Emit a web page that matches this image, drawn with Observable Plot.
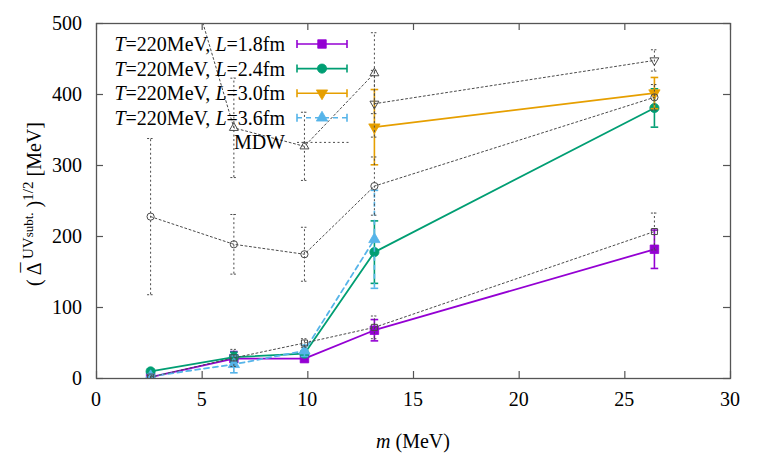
<!DOCTYPE html>
<html><head><meta charset="utf-8">
<script src="https://cdn.jsdelivr.net/npm/d3@7"></script>
<script src="https://cdn.jsdelivr.net/npm/@observablehq/plot@0.6"></script>
<style>body{margin:0;background:#fff}</style>
</head><body><div id="chart"></div>
<script>
// ---- data ----
const mAll = [2.56, 6.5, 9.84, 13.15, 26.4];
const mOrange = [13.15, 26.4];
const mBlue = [2.56, 6.5, 9.84, 13.15];
const mUp = [2.56, 6.5, 9.84, 13.15];
const mDown = [13.15, 26.4];

const valL18 = [2, 28, 28, 68, 182];
const errL18 = [2, 10, 4, 15, 27];
const valL24 = [10, 30, 35, 178, 381];
const errL24 = [3, 7, 4, 44, 27];
const valL30 = [354, 402];
const errL30 = [53, 22];
const valL36 = [3, 20, 39, 196];
const errL36 = [3, 12, 8, 69];

const mdwCircle = [228, 189, 175, 271, 396];
const mdwCircleErr = [110, 42, 38, 41, 18];
const mdwUp = [750, 353, 327, 430];
const mdwUpErr = [200, 70, 48, 57];
const mdwDown = [387, 448];
const mdwDownErr = [47, 15];
const mdwSquare = [2, 29, 50, 72, 207];
const mdwSquareErr = [2, 12, 6, 16, 26];

const xTicks = [0, 5, 10, 15, 20, 25, 30];
const yTicks = [0, 100, 200, 300, 400, 500];
const temperature = "220MeV";
const sizes = ["1.8fm", "2.4fm", "3.0fm", "3.6fm"];
const mdwLabel = "MDW";

// ---- layout / style ----
const W = 763, H = 458, mL = 96, mR = 33, mT = 23, mB = 80;
const innerW = W - mL - mR, innerH = H - mT - mB, tickLen = 7;
const axisColor = "#555";
const mdwColor = "#4a4a4a", mdwDash = "2 2.5";
const serif = "Liberation Serif";

const capSymbol = {draw(ctx, size) { const r = Math.sqrt(size / Math.PI); ctx.moveTo(-r, 0); ctx.lineTo(r, 0); }};
const rows = (ms, vs, es) => ms.map((m, i) => ({m, v: vs[i], lo: vs[i] - es[i], hi: vs[i] + es[i]}));

const colored = [
  {rows: rows(mAll, valL18, errL18), color: "#9400d3", symbol: "square", r: 4.8, rotate: 0, dash: null},
  {rows: rows(mAll, valL24, errL24), color: "#009e73", symbol: "circle", r: 4.6, rotate: 0, dash: null},
  {rows: rows(mOrange, valL30, errL30), color: "#e69f00", symbol: "triangle", r: 4.2, rotate: 180, dash: null},
  {rows: rows(mBlue, valL36, errL36), color: "#56b4e9", symbol: "triangle", r: 4.2, rotate: 0, dash: "5 4"}
];
const mdw = [
  {rows: rows(mAll, mdwCircle, mdwCircleErr), symbol: "circle", r: 3.6, rotate: 0},
  {rows: rows(mUp, mdwUp, mdwUpErr), symbol: "triangle", r: 3.3, rotate: 0},
  {rows: rows(mDown, mdwDown, mdwDownErr), symbol: "triangle", r: 3.3, rotate: 180},
  {rows: rows(mAll, mdwSquare, mdwSquareErr), symbol: "square", r: 3.4, rotate: 0}
];

function coloredMarks(s) {
  return [
    Plot.line(s.rows, {x: "m", y: "v", stroke: s.color, strokeWidth: 1.8, strokeDasharray: s.dash, clip: true}),
    Plot.ruleX(s.rows, {x: "m", y1: "lo", y2: "hi", stroke: s.color, strokeWidth: 1.6, strokeDasharray: s.dash, clip: true}),
    Plot.dot(s.rows, {x: "m", y: "lo", symbol: capSymbol, r: 3.8, fill: "none", stroke: s.color, strokeWidth: 1.6, clip: true}),
    Plot.dot(s.rows, {x: "m", y: "hi", symbol: capSymbol, r: 3.8, fill: "none", stroke: s.color, strokeWidth: 1.6, clip: true}),
    Plot.dot(s.rows, {x: "m", y: "v", symbol: s.symbol, r: s.r, rotate: s.rotate, fill: s.color, stroke: s.color, strokeWidth: 0.8, clip: true})
  ];
}
function mdwMarks(s) {
  return [
    Plot.line(s.rows, {x: "m", y: "v", stroke: mdwColor, strokeWidth: 1, strokeDasharray: mdwDash, clip: true}),
    Plot.ruleX(s.rows, {x: "m", y1: "lo", y2: "hi", stroke: mdwColor, strokeWidth: 1, strokeDasharray: mdwDash, clip: true}),
    Plot.dot(s.rows, {x: "m", y: "lo", symbol: capSymbol, r: 3.5, fill: "none", stroke: mdwColor, strokeWidth: 1, strokeDasharray: "2 1.5", clip: true}),
    Plot.dot(s.rows, {x: "m", y: "hi", symbol: capSymbol, r: 3.5, fill: "none", stroke: mdwColor, strokeWidth: 1, strokeDasharray: "2 1.5", clip: true}),
    Plot.dot(s.rows, {x: "m", y: "v", symbol: s.symbol, r: s.r, rotate: s.rotate, fill: "none", stroke: mdwColor, strokeWidth: 1, clip: true})
  ];
}

const plot = Plot.plot({
  width: W, height: H, marginLeft: mL, marginRight: mR, marginTop: mT, marginBottom: mB,
  x: {domain: [0, 30], axis: null},
  y: {domain: [0, 500], axis: null},
  style: {background: "#fff", color: "#000"},
  marks: [
    Plot.tickX(xTicks, {x: d => d, insetTop: innerH - tickLen, stroke: axisColor, strokeWidth: 1.2}),
    Plot.tickX(xTicks, {x: d => d, insetBottom: innerH - tickLen, stroke: axisColor, strokeWidth: 1.2}),
    Plot.tickY(yTicks, {y: d => d, insetRight: innerW - tickLen, stroke: axisColor, strokeWidth: 1.2}),
    Plot.tickY(yTicks, {y: d => d, insetLeft: innerW - tickLen, stroke: axisColor, strokeWidth: 1.2}),
    ...colored.flatMap(coloredMarks),
    ...mdw.flatMap(mdwMarks),
    Plot.frame({stroke: axisColor, strokeWidth: 1.3})
  ]
});

const svg = d3.select(plot);
const xs = plot.scale("x"), ys = plot.scale("y");

// tick labels, positioned through Plot's own scales
const tl = svg.append("g").attr("font-family", serif).attr("font-size", 20).attr("fill", "#000");
xTicks.forEach(t => tl.append("text").attr("x", xs.apply(t)).attr("y", 406).attr("text-anchor", "middle").text(String(t)));
yTicks.forEach(t => tl.append("text").attr("x", 82).attr("y", ys.apply(t)).attr("dy", "0.35em").attr("text-anchor", "end").text(String(t)));

// x label
const xl = svg.append("text").attr("x", mL + innerW / 2).attr("y", 448).attr("text-anchor", "middle")
  .attr("font-family", serif).attr("font-size", 20).attr("fill", "#000");
xl.append("tspan").attr("font-style", "italic").text("m");
xl.append("tspan").text(" (MeV)");

// y label
const yl = svg.append("text").attr("transform", "translate(41,204) rotate(-90)").attr("text-anchor", "middle")
  .attr("font-family", serif).attr("font-size", 20).attr("fill", "#000");
yl.append("tspan").text("( ");
yl.append("tspan").text("\u0394");
yl.append("tspan").attr("dx", -10).attr("dy", -5).text("\u00AF");
yl.append("tspan").attr("dx", 3.5).attr("dy", -3).attr("font-size", 15).text("UV");
yl.append("tspan").attr("font-size", 13).text("subt.");
yl.append("tspan").attr("dy", 8).text(" )");
yl.append("tspan").attr("dy", -8).attr("font-size", 15).text("1/2");
yl.append("tspan").attr("dy", 8).text(" [MeV]");

// legend
const lg = svg.append("g").attr("font-family", serif).attr("font-size", 20).attr("fill", "#000");
const textRight = 285, sx1 = 297, sx2 = 347, sxc = 322, ly0 = 44, ldy = 24.6;
colored.forEach((s, i) => {
  const y = ly0 + i * ldy;
  const t = lg.append("text").attr("x", textRight).attr("y", y).attr("dy", "0.35em").attr("text-anchor", "end");
  t.append("tspan").attr("font-style", "italic").text("T");
  t.append("tspan").text("=" + temperature + ", ");
  t.append("tspan").attr("font-style", "italic").text("L");
  t.append("tspan").text("=" + sizes[i]);
  const g = lg.append("g").attr("stroke", s.color).attr("stroke-width", 1.6).attr("fill", "none");
  g.append("line").attr("x1", sx1).attr("x2", sx2).attr("y1", y).attr("y2", y).attr("stroke-dasharray", s.dash);
  g.append("line").attr("x1", sx1).attr("x2", sx1).attr("y1", y - 4).attr("y2", y + 4);
  g.append("line").attr("x1", sx2).attr("x2", sx2).attr("y1", y - 4).attr("y2", y + 4);
  const sym = {square: d3.symbolSquare, circle: d3.symbolCircle, triangle: d3.symbolTriangle}[s.symbol];
  g.append("path").attr("d", d3.symbol(sym, s.r * s.r * Math.PI)())
    .attr("transform", `translate(${sxc},${y}) rotate(${s.rotate})`).attr("fill", s.color).attr("stroke-width", 0.8);
});
{
  const y = ly0 + 4 * ldy;
  lg.append("text").attr("x", textRight).attr("y", y).attr("dy", "0.35em").attr("text-anchor", "end").text(mdwLabel);
  lg.append("line").attr("x1", sx1).attr("x2", sx2 + 3).attr("y1", y).attr("y2", y)
    .attr("stroke", mdwColor).attr("stroke-dasharray", mdwDash).attr("stroke-width", 1);
}

document.getElementById("chart").append(plot);
</script>
</body></html>
